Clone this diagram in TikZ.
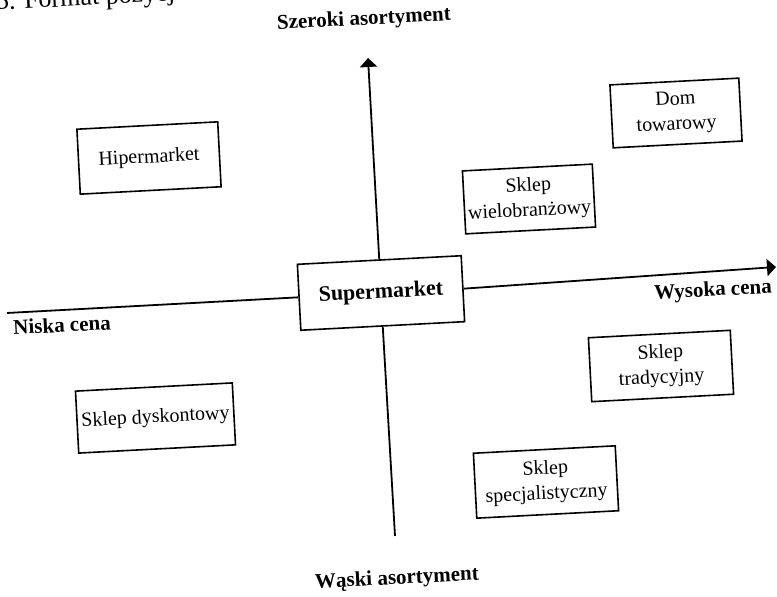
\documentclass[tikz,border=0pt]{standalone}
\usepackage{fontspec}
\setmainfont{Liberation Serif}
\usetikzlibrary{arrows.meta}
\begin{document}
\begin{tikzpicture}[x=0.5pt,y=-0.5pt,
  box/.style={draw, line width=0.8pt, rectangle, rotate=3, align=center, inner sep=0pt, font=\fontsize{10}{12.5}\selectfont},
  axis/.style={line width=0.9pt},
  lab/.style={font=\bfseries\fontsize{10.5}{12}\selectfont, rotate=3},
  tip/.style={-{Triangle[length=4.5pt,width=8.5pt]}}]
\useasboundingbox (0,0) rectangle (777,597);
\clip (0,0) rectangle (777,597);
\fill[white] (0,0) rectangle (777,597);
% caption fragment
\node[anchor=base west, rotate=3, font=\fontsize{13}{15}\selectfont, inner sep=0pt] (cap) at (-4,10) {5. Format pozycjonowania};
% boxes
\node[box, minimum width=70.5pt, minimum height=32.5pt] (hiper) at (149,158) {Hipermarket};
\node[box, minimum width=64.5pt, minimum height=31.5pt] (dom) at (676,113) {Dom\\towarowy};
\node[box, minimum width=65pt, minimum height=31.5pt] (wielo) at (529,199) {Sklep\\wielobranżowy};
\node[box, minimum width=82pt, minimum height=33pt, font=\bfseries\fontsize{11}{13}\selectfont] (super) at (381,293) {Supermarket};
\node[box, minimum width=78.5pt, minimum height=31pt] (dysk) at (155.5,418) {Sklep dyskontowy};
\node[box, minimum width=71pt, minimum height=32pt] (trad) at (661,366) {Sklep\\tradycyjny};
\node[box, minimum width=71pt, minimum height=32.5pt] (spec) at (546,482) {Sklep\\specjalistyczny};
% axes
\coordinate (nl) at (7,313);
\coordinate (wh) at (776,267);
\coordinate (st) at (368,58);
\coordinate (wb) at (395,536);
\draw[axis] (nl) -- (super.west);
\draw[axis,tip] (super.east) -- (wh);
\draw[axis,tip] (super.north) -- (st);
\draw[axis] (super.south) -- (wb);
% axis labels
\node[lab] (szer) at (364,20) {Szeroki asortyment};
\node[lab] (nisk) at (62,325) {Niska cena};
\node[lab] (wys) at (713,291) {Wysoka cena};
\node[lab] (wask) at (397,579) {Wąski asortyment};
\end{tikzpicture}
\end{document}
